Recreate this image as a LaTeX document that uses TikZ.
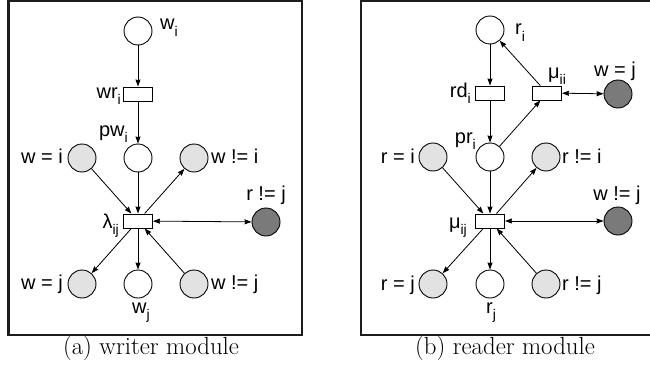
\documentclass[tikz,border=0pt]{standalone}
\usepackage{fontspec}
\newfontfamily\lab{Liberation Sans}
\usetikzlibrary{arrows.meta}
\definecolor{lgray}{RGB}{226,226,226}
\definecolor{dgray}{RGB}{122,122,122}
\definecolor{framec}{RGB}{30,28,30}
\newcommand\sbs[1]{\raisebox{-6.5pt}{\fontsize{14}{14}\selectfont #1}}
\begin{document}
\begin{tikzpicture}[x=1pt,y=-1pt,
  place/.style={circle,draw,line width=0.9pt,minimum size=28pt,inner sep=0pt,fill=white},
  lplace/.style={place,fill=lgray},
  dplace/.style={place,fill=dgray},
  trans/.style={rectangle,draw,line width=0.9pt,minimum width=29pt,minimum height=14pt,inner sep=0pt,fill=white},
  lbl/.style={font=\lab\fontsize{20}{20}\selectfont,inner sep=0pt},
  captxt/.style={font=\fontsize{24.8}{26}\selectfont,inner sep=0pt},
  arc/.style={line width=0.8pt,-{Stealth[length=7pt,width=5pt,inset=0.5pt]}},
  barc/.style={line width=0.8pt,{Stealth[length=7pt,width=5pt,inset=0.5pt]}-{Stealth[length=7pt,width=5pt,inset=0.5pt]}},
  frame/.style={line width=2.5pt,draw=framec}]
\useasboundingbox (0,0) rectangle (650,369);
\draw[frame] (8.5,1.2) rectangle (302,335);
\draw[frame] (361,1.2) rectangle (672,335);
% ---- writer module
\node[place] (wi) at (138,31) {};
\node[trans] (wr) at (138,94) {};
\node[place] (pw) at (138,158) {};
\node[lplace] (wei) at (82,158) {};
\node[lplace] (wnei) at (194,158) {};
\node[trans] (lam) at (138,221) {};
\node[dplace] (rnej) at (266,222) {};
\node[lplace] (wej) at (82,284) {};
\node[place] (wj) at (138,284) {};
\node[lplace] (wnej) at (194,284) {};
\node[lbl,anchor=base west] (twi) at (160,30) {w\sbs{i}};
\node[lbl,anchor=base east] (twr) at (121,98) {wr\sbs{i}};
\node[lbl,anchor=base east] (tpw) at (128,136) {pw\sbs{i}};
\node[lbl,anchor=base east] (twei) at (63,163) {w = i};
\node[lbl,anchor=base west] (twnei) at (211,163) {w != i};
\node[lbl,anchor=base east] (tlam) at (119,228) {λ\sbs{ij}};
\node[lbl,anchor=base] (trnej) at (266,200) {r != j};
\node[lbl,anchor=base east] (twej) at (63,289) {w = j};
\node[lbl,anchor=base west] (twnej) at (211,289) {w != j};
\node[lbl,anchor=base] (twj) at (141,313) {w\sbs{j}};
\draw[arc] (wi) -- (wr);
\draw[arc] (wr) -- (pw);
\draw[arc] (pw) -- (lam);
\draw[arc] (wei) -- (lam);
\draw[arc] (lam) -- (wnei);
\draw[barc] (lam) -- (rnej);
\draw[arc] (lam) -- (wej);
\draw[arc] (lam) -- (wj);
\draw[arc] (wnej) -- (lam);
\node[captxt] (capa) at (151,348) {(a) writer module};
% ---- reader module
\node[place] (ri) at (490,30) {};
\node[trans] (rd) at (490,93) {};
\node[trans] (mii) at (547,93) {};
\node[dplace] (wej2) at (618,94) {};
\node[place] (pr) at (490,157) {};
\node[lplace] (rei) at (433,157) {};
\node[lplace] (rnei) at (546,157) {};
\node[trans] (mij) at (490,221) {};
\node[dplace] (wnej2) at (618,221) {};
\node[lplace] (rej) at (433,284) {};
\node[place] (rj) at (490,284) {};
\node[lplace] (rnej2) at (546,284) {};
\node[lbl,anchor=base west] (tri) at (515,35) {r\sbs{i}};
\node[lbl,anchor=base east] (trd) at (471,97) {rd\sbs{i}};
\node[lbl,anchor=base west] (tmii) at (548,78) {μ\sbs{ii}};
\node[lbl,anchor=base] (twej2) at (615,77) {w = j};
\node[lbl,anchor=base east] (tpr) at (476,143) {pr\sbs{i}};
\node[lbl,anchor=base east] (trei) at (415,163) {r = i};
\node[lbl,anchor=base west] (trnei) at (562,163) {r != i};
\node[lbl,anchor=base east] (tmij) at (467,228) {μ\sbs{ij}};
\node[lbl,anchor=base] (twnej2) at (617,200) {w != j};
\node[lbl,anchor=base east] (trej) at (415,290) {r = j};
\node[lbl,anchor=base west] (trnej2) at (562,290) {r != j};
\node[lbl,anchor=base] (trj) at (491,313) {r\sbs{j}};
\draw[arc] (ri) -- (rd);
\draw[arc] (rd) -- (pr);
\draw[arc] (pr) -- (mii);
\draw[arc] (mii) -- (ri);
\draw[barc] (mii) -- (wej2);
\draw[arc] (pr) -- (mij);
\draw[arc] (rei) -- (mij);
\draw[arc] (mij) -- (rnei);
\draw[barc] (mij) -- (wnej2);
\draw[arc] (mij) -- (rej);
\draw[arc] (mij) -- (rj);
\draw[arc] (rnej2) -- (mij);
\node[captxt] (capb) at (505,348) {(b) reader module};
\end{tikzpicture}
\end{document}
